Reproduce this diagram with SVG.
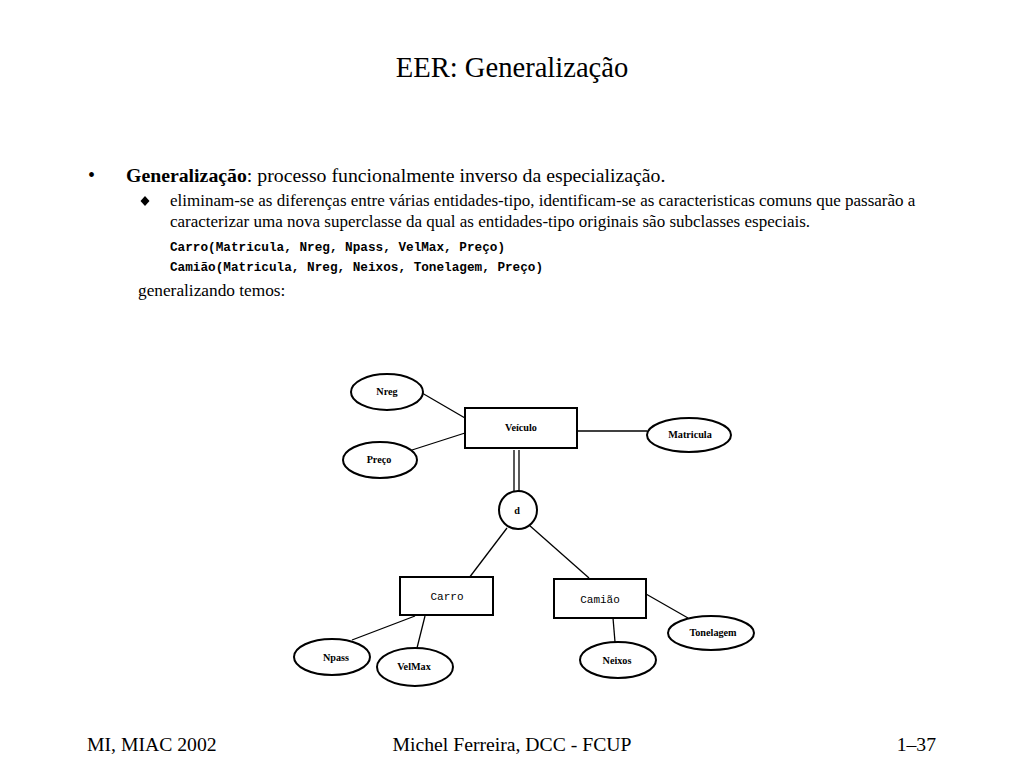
<svg xmlns="http://www.w3.org/2000/svg" width="1024" height="768" viewBox="0 0 1024 768">
<style>
.t{font-family:"Liberation Serif",serif;fill:#000}
.m{font-family:"Liberation Mono",monospace;fill:#000}
.lbl{font-family:"Liberation Serif",serif;font-weight:bold;font-size:10.2px;text-anchor:middle;fill:#000}
.ml{font-family:"Liberation Mono",monospace;font-size:11px;text-anchor:middle;fill:#000}
.sh{fill:#fff;stroke:#000;stroke-width:2}
.ln{stroke:#000;stroke-width:1.3;fill:none}
</style>
<rect width="1024" height="768" fill="#fff"/>
<text class="t" x="512" y="77" font-size="28.6" text-anchor="middle">EER: Generalização</text>
<text class="t" x="88" y="182" font-size="20">•</text>
<text class="t" x="126" y="182" font-size="19.8"><tspan font-weight="bold">Generalização</tspan>: processo funcionalmente inverso da especialização.</text>
<path d="M145 196 L149.5 201 L145 206 L140.5 201 Z" fill="#000"/>
<text class="t" x="170" y="206" font-size="17">eliminam-se as diferenças entre várias entidades-tipo, identificam-se as caracteristicas comuns que passarão a</text>
<text class="t" x="170" y="227" font-size="17">caracterizar uma nova superclasse da qual as entidades-tipo originais são subclasses especiais.</text>
<text class="m" x="170" y="251" font-size="12.7" font-weight="bold">Carro(Matricula, Nreg, Npass, VelMax, Preço)</text>
<text class="m" x="170" y="271" font-size="12.7" font-weight="bold">Camião(Matricula, Nreg, Neixos, Tonelagem, Preço)</text>
<text class="t" x="138" y="296" font-size="17.3">generalizando temos:</text>
<g id="connectors">
<line class="ln" x1="422" y1="393" x2="465" y2="418"/>
<line class="ln" x1="412" y1="450" x2="465" y2="433"/>
<line class="ln" x1="577" y1="431" x2="647" y2="431"/>
<line class="ln" x1="514" y1="450" x2="514" y2="491"/>
<line class="ln" x1="519" y1="450" x2="519" y2="491"/>
<line class="ln" x1="507" y1="528" x2="469" y2="578"/>
<line class="ln" x1="529" y1="525" x2="589" y2="578"/>
<line class="ln" x1="415" y1="616" x2="352" y2="640"/>
<line class="ln" x1="425" y1="616" x2="417" y2="648"/>
<line class="ln" x1="613" y1="618" x2="615" y2="642"/>
<line class="ln" x1="646" y1="594" x2="688" y2="618"/>
</g>
<g id="veiculo"><rect class="sh" x="465" y="408" width="112" height="40"/><text class="lbl" x="521" y="431">Veículo</text></g>
<g id="nreg"><ellipse class="sh" cx="387" cy="392" rx="36" ry="18"/><text class="lbl" x="387" y="395">Nreg</text></g>
<g id="preco"><ellipse class="sh" cx="380" cy="460" rx="37" ry="18"/><text class="lbl" x="379" y="463">Preço</text></g>
<g id="matricula"><ellipse class="sh" cx="689" cy="435" rx="42" ry="17"/><text class="lbl" x="690" y="438">Matricula</text></g>
<g id="d"><circle class="sh" cx="518" cy="510" r="19"/><text class="lbl" x="517" y="514">d</text></g>
<g id="carro"><rect class="sh" x="400" y="577" width="93" height="38"/><text class="ml" x="447" y="600">Carro</text></g>
<g id="camiao"><rect class="sh" x="554" y="579" width="92" height="39"/><text class="ml" x="600" y="603">Camião</text></g>
<g id="npass"><ellipse class="sh" cx="332" cy="657" rx="38" ry="18"/><text class="lbl" x="336" y="661">Npass</text></g>
<g id="velmax"><ellipse class="sh" cx="415" cy="667" rx="38" ry="19"/><text class="lbl" x="414" y="670">VelMax</text></g>
<g id="neixos"><ellipse class="sh" cx="618" cy="660" rx="38" ry="18"/><text class="lbl" x="617" y="664">Neixos</text></g>
<g id="tonelagem"><ellipse class="sh" cx="711" cy="633" rx="43" ry="17"/><text class="lbl" x="713" y="636">Tonelagem</text></g>
<text class="t" x="87" y="751" font-size="19.7">MI, MIAC 2002</text>
<text class="t" x="512" y="751" font-size="19.7" text-anchor="middle">Michel Ferreira, DCC - FCUP</text>
<text class="t" x="936" y="751" font-size="19.7" text-anchor="end">1–37</text>
</svg>
